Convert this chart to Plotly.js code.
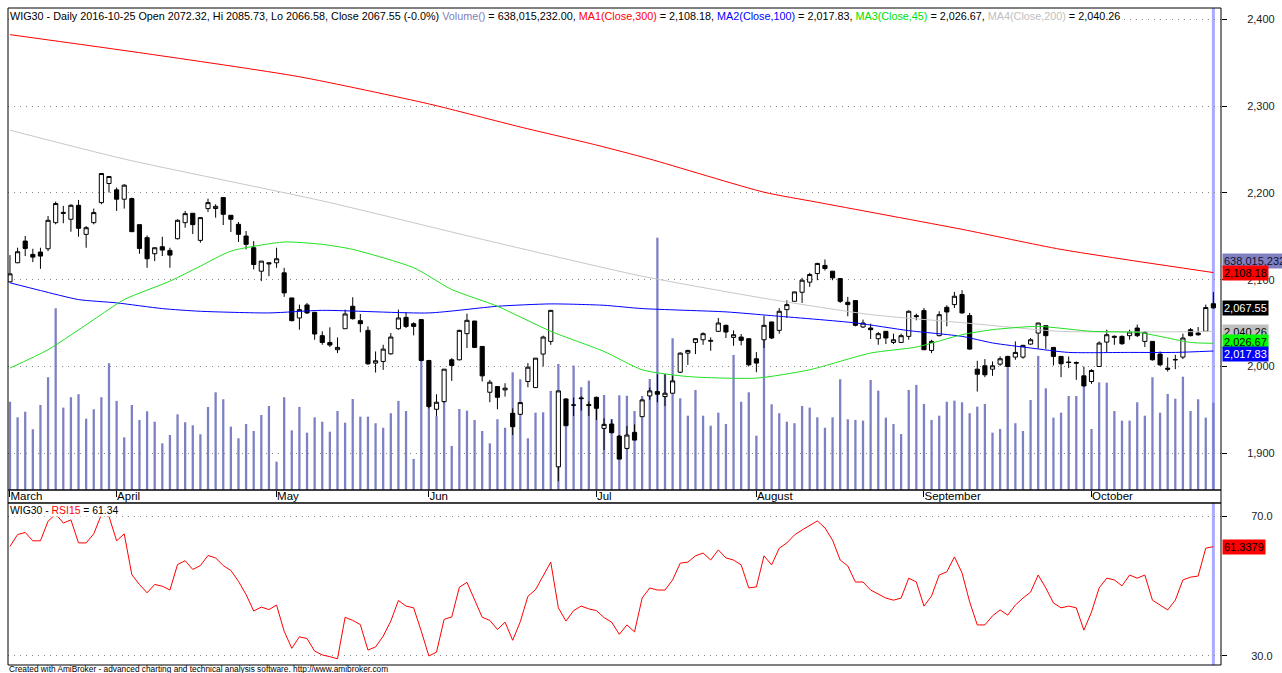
<!DOCTYPE html>
<html>
<head>
<meta charset="utf-8">
<script src="https://cdn.plot.ly/plotly-3.0.1.min.js"></script>
<style>
html,body{margin:0;padding:0;background:#fff;}
#chart{width:1282px;height:673px;}
</style>
</head>
<body>
<div id="chart"></div>
<script>
// ---------- DATA ----------
const monthTickIdx = [0, 14, 35, 55, 77, 98, 120, 142];
const monthLabels = ["March", "April", "May", "Jun", "Jul", "August", "September", "October"];

const openP = [
2097.5,2119.5,2144.5,2129.1,2131.8,2135.6,2165.7,2177.5,2169.6,2185.7,
2152.2,2165.7,2188.8,2210.8,2203.5,2192.7,2193.4,2163.4,2148.4,2129.9,
2138.0,2133.7,2147.2,2165.7,2176.5,2145.3,2181.9,2182.0,2194.6,2174.2,
2163.8,2150.3,2136.8,2109.8,2119.5,2119.5,2107.9,2079.0,2055.9,2070.9,
2062.4,2035.5,2027.7,2019.3,2043.5,2069.4,2052.8,2041.6,2003.9,2005.8,
2014.6,2043.5,2056.6,2049.3,2054.0,2006.9,1950.7,1959.5,2007.7,2007.7,
2037.8,2052.4,2023.1,1970.3,1976.9,1973.0,1946.1,1944.9,1982.7,1975.7,
2014.3,2028.9,1884.4,1962.6,1955.7,1963.8,1956.1,1964.5,1928.7,1933.7,
1919.8,1905.6,1924.1,1942.2,1966.1,1971.1,1965.3,1969.2,1993.4,2015.4,
2027.7,2030.8,2029.0,2040.5,2047.4,2033.5,2033.9,2032.0,2008.9,2030.8,
2051.3,2041.6,2065.5,2075.1,2085.5,2097.1,2107.1,2116.4,2109.8,2101.3,
2074.0,2075.9,2045.5,2044.3,2032.0,2040.5,2027.7,2027.7,2034.7,2058.6,
2064.4,2018.5,2035.5,2068.2,2071.3,2082.9,2058.6,1996.9,2000.8,1996.9,
2002.7,2011.6,2010.8,2010.8,2025.8,2038.5,2047.0,2022.0,2011.6,2005.2,
2004.6,1989.2,1982.7,2000.0,2028.1,2033.5,2034.7,2035.5,2044.3,2028.9,
2028.9,2014.3,1998.1,2008.1,2010.8,2042.4,2038.5,2040.5,2072.32];
const highP = [
2128.3,2136.8,2150.3,2135.6,2136.8,2173.4,2190.0,2185.0,2187.0,2191.9,
2161.8,2181.9,2222.5,2219.0,2206.2,2210.0,2194.6,2163.5,2151.0,2137.0,
2149.5,2136.8,2169.6,2179.2,2176.5,2171.5,2193.4,2186.9,2195.0,2174.5,
2166.5,2156.1,2144.5,2121.5,2119.6,2136.8,2113.7,2079.1,2071.3,2073.2,
2062.5,2040.5,2045.1,2033.5,2065.5,2079.8,2060.5,2046.2,2017.3,2025.0,
2038.5,2065.5,2062.8,2050.9,2054.7,2007.7,1968.0,1997.0,2009.6,2042.4,
2060.9,2052.5,2023.2,1984.6,1977.0,1980.7,1951.8,1958.5,2003.9,2009.6,
2035.5,2065.0,1972.0,1963.4,1964.2,1965.7,1959.5,1965.3,1940.3,1939.1,
1921.0,1931.4,1933.3,1962.0,1975.7,1991.1,1991.1,1989.6,2016.2,2019.3,
2032.8,2039.3,2033.5,2055.9,2048.2,2041.6,2037.4,2032.1,2016.6,2058.6,
2051.5,2067.4,2076.3,2086.0,2102.1,2107.9,2119.5,2123.3,2110.0,2101.5,
2080.2,2076.0,2054.0,2049.3,2039.7,2040.6,2037.8,2037.8,2064.7,2060.9,
2067.4,2030.8,2063.6,2070.5,2085.9,2087.9,2061.7,2006.6,2008.5,2005.8,
2011.6,2012.3,2028.9,2025.0,2032.8,2050.2,2047.1,2022.1,2011.7,2011.6,
2005.8,2000.0,1996.9,2028.9,2042.4,2035.8,2035.8,2042.4,2048.2,2040.5,
2029.0,2017.3,2010.4,2013.5,2037.8,2044.3,2045.5,2071.3,2085.73];
const lowP = [
2097.0,2119.0,2127.2,2120.2,2112.5,2132.9,2163.8,2165.0,2155.3,2149.5,
2136.8,2163.8,2186.9,2200.4,2179.2,2181.9,2155.0,2129.9,2113.7,2121.4,
2127.2,2113.7,2146.4,2159.9,2152.6,2142.6,2178.0,2171.5,2163.0,2154.9,
2143.4,2134.9,2111.8,2098.3,2104.0,2113.7,2080.2,2052.0,2042.4,2060.5,
2030.8,2025.0,2022.4,2015.4,2043.4,2054.0,2039.3,2001.9,1993.1,1996.1,
2013.5,2042.4,2044.3,2035.8,2005.8,1951.8,1943.0,1958.4,1983.4,2007.0,
2021.2,2021.2,1982.7,1958.8,1950.7,1965.3,1921.0,1944.1,1976.1,1975.6,
2000.0,2025.0,1867.8,1931.8,1943.0,1949.1,1943.0,1938.3,1903.7,1922.9,
1893.0,1904.4,1915.0,1942.0,1961.5,1958.8,1954.5,1969.0,1992.3,2001.9,
2014.3,2025.0,2018.1,2039.7,2032.8,2023.9,2024.3,2000.0,1993.4,2021.2,
2031.6,2037.8,2055.9,2075.0,2073.2,2091.7,2099.4,2110.6,2099.4,2073.2,
2057.8,2046.2,2044.3,2031.6,2025.0,2025.8,2025.8,2027.0,2030.8,2053.2,
2019.0,2015.4,2034.7,2046.2,2067.4,2060.9,2019.3,1971.1,1987.7,1989.2,
2000.8,2000.0,2007.7,2008.9,2025.0,2020.4,2020.4,2001.2,1987.7,1998.1,
1984.6,1976.9,1980.0,2000.0,2016.6,2025.0,2025.0,2030.8,2033.9,2022.4,
2006.9,2000.8,1994.2,1996.9,2008.5,2034.7,2035.5,2040.5,2066.58];
const closeP = [
2106.7,2132.2,2136.0,2126.0,2127.2,2168.4,2187.7,2176.5,2185.7,2159.2,
2159.9,2177.3,2222.3,2218.9,2192.7,2208.9,2155.3,2136.0,2124.1,2136.8,
2134.1,2128.3,2168.4,2176.1,2163.4,2171.5,2188.8,2184.5,2175.3,2169.6,
2152.2,2140.7,2117.5,2121.4,2118.3,2124.1,2084.8,2052.8,2065.5,2061.7,
2037.4,2027.7,2024.7,2022.0,2060.5,2055.1,2049.3,2003.1,2006.6,2020.0,
2033.9,2055.9,2046.2,2046.2,2006.9,1953.8,1958.8,1996.9,2001.2,2041.6,
2053.2,2022.0,1989.2,1981.9,1964.5,1975.0,1930.6,1958.4,1999.2,2009.6,
2033.9,2064.7,1971.9,1931.8,1955.5,1963.0,1955.0,1951.8,1933.3,1923.7,
1893.3,1921.0,1915.2,1961.5,1971.9,1968.0,1969.2,1983.4,2015.4,2018.5,
2032.0,2037.8,2030.0,2050.1,2039.7,2036.6,2030.1,2001.9,2003.9,2047.4,
2032.8,2063.6,2071.3,2085.9,2099.4,2106.0,2118.7,2112.9,2102.1,2075.1,
2071.3,2047.4,2050.1,2042.4,2037.8,2032.8,2030.8,2035.5,2063.6,2057.5,
2019.3,2028.9,2059.7,2062.8,2080.9,2061.7,2020.0,1991.1,1990.4,2000.8,
2008.9,2000.0,2016.2,2024.3,2030.8,2050.1,2035.5,2011.6,2003.1,2004.6,
2003.9,1977.6,1995.4,2027.0,2036.6,2034.7,2026.2,2039.7,2035.5,2039.3,
2007.7,2001.9,1996.9,2007.7,2032.8,2035.5,2036.5,2067.9,2067.55];
// volume in millions of shares
const volumeM = [
645,531,572,444,621,824,1328,602,678,700,
521,590,678,926,651,385,621,512,575,499,
341,402,553,495,473,407,607,714,663,463,
378,482,431,548,614,207,678,436,607,419,
531,499,426,577,492,665,536,536,488,455,
561,651,577,227,950,658,541,707,322,592,
580,512,431,341,517,455,860,809,378,565,
568,724,921,665,909,751,799,645,694,517,
692,689,577,687,811,1844,848,1109,670,543,
731,543,470,565,482,987,645,714,397,1096,
626,561,499,488,614,602,531,455,531,809,
517,512,507,804,726,529,482,409,731,768,
629,512,543,645,653,641,561,609,629,419,
446,950,488,431,658,980,743,529,565,687,
687,804,446,787,784,577,507,507,641,543,
824,565,702,667,828,577,663,529,638.015232];
const rsi15 = [
61.4,64.8,65.4,63.0,63.0,68.6,70.7,68.1,69.0,62.4,
62.4,65.0,70.5,70.0,63.0,65.0,53.3,50.5,48.1,50.5,
50.0,48.9,56.2,57.3,54.8,55.9,58.8,58.1,55.9,54.5,
51.4,47.6,42.9,44.0,43.3,44.6,37.1,32.2,35.5,35.0,
31.4,30.3,29.8,29.2,41.1,40.2,39.0,31.7,32.6,35.7,
40.0,45.9,44.3,43.8,37.1,30.0,31.1,40.5,41.2,49.7,
51.1,46.0,41.1,40.2,37.6,39.7,34.5,39.8,47.1,49.0,
52.9,56.9,43.8,40.0,43.0,44.3,43.5,43.0,41.0,39.7,
36.2,38.9,36.9,46.6,49.5,48.9,48.9,51.8,56.6,56.9,
58.7,59.5,57.5,60.4,58.1,57.5,56.1,49.5,49.8,58.7,
56.1,60.9,62.4,64.7,66.1,67.5,68.7,66.7,63.2,57.5,
55.8,51.2,51.2,48.9,47.8,46.6,46.0,46.6,52.3,51.2,
44.3,47.2,53.2,54.1,58.4,53.8,45.5,38.9,38.9,41.5,
43.2,41.7,44.6,46.6,48.3,53.2,49.5,45.2,43.8,44.3,
43.8,37.4,42.6,49.5,52.3,51.8,50.1,53.2,52.3,53.2,
46.0,44.6,43.2,46.0,51.8,52.6,52.9,60.9,61.3379];

// moving averages, read at selected bars
const ma1Idx = [0,18,38,55,67,77,84,99,106,125,138,158];
const ma1Val = [2382.3,2360.3,2333.8,2302.5,2275.9,2255.1,2239.0,2200.8,2189.2,2158.0,2134.9,2108.18];
const ma2Idx = [0,4,9,14,20,25,34,41,55,64,71,78,83,94,100,111,118,125,129,134,139,147,153,158];
const ma2Val = [2096.4,2087.5,2077.1,2073.3,2066.7,2063.6,2061.7,2064.7,2061.7,2069.4,2072.1,2070.5,2066.7,2062.9,2058.6,2050.2,2041.3,2034.7,2027.1,2021.3,2016.2,2016.2,2016.2,2017.83];
const ma3Idx = [0,5,11,15,21,25,29,36,41,45,53,58,64,71,78,83,89,98,105,113,119,125,129,135,142,148,151,155,158];
const ma3Val = [1998.2,2019.3,2054.0,2077.1,2098.3,2115.6,2132.9,2143.4,2140.7,2134.9,2113.8,2088.7,2069.4,2040.5,2017.3,1996.2,1988.4,1986.6,1996.2,2015.5,2022.4,2036.6,2042.4,2046.2,2040.5,2039.3,2034.7,2027.7,2026.67];
const ma4Idx = [0,15,41,62,83,100,113,125,138,158];
const ma4Val = [2272.2,2239.0,2190.8,2146.5,2104.0,2077.1,2059.8,2050.5,2040.5,2040.26];

const priceTicks = [1900,2000,2100,2200,2300,2400];
const rsiTicks = [30,70];

// ---------- CHART ----------
const idx = closeP.map((_, i) => i);
const last = closeP.length - 1;
const fmt2 = v => v.toLocaleString('en-US', {minimumFractionDigits: 2, maximumFractionDigits: 2});
const volFull = Math.round(volumeM[last] * 1e6);
const volStr = volFull.toLocaleString('en-US');

const MAIN_DOM = [0.26636, 1];
const RSI_DOM = [0, 0.24658];
const maLine = (c) => ({color:c, width:1, shape:'spline', smoothing:0.6});

const traces = [
  {type:'bar', x: idx, y: volumeM, xaxis:'x', yaxis:'y', width:0.3,
   marker:{color:'#7c80c4', line:{width:0}}, hoverinfo:'skip'},
  {type:'scatter', mode:'lines', x: ma4Idx, y: ma4Val, xaxis:'x', yaxis:'y2', line: maLine('#c8c8c8'), hoverinfo:'skip'},
  {type:'scatter', mode:'lines', x: ma1Idx, y: ma1Val, xaxis:'x', yaxis:'y2', line: maLine('#ff0000'), hoverinfo:'skip'},
  {type:'scatter', mode:'lines', x: ma2Idx, y: ma2Val, xaxis:'x', yaxis:'y2', line: maLine('#0000ff'), hoverinfo:'skip'},
  {type:'scatter', mode:'lines', x: ma3Idx, y: ma3Val, xaxis:'x', yaxis:'y2', line: maLine('#22e022'), hoverinfo:'skip'},
  {type:'candlestick', x: idx, open: openP, high: highP, low: lowP, close: closeP, xaxis:'x', yaxis:'y2',
   whiskerwidth:0,
   increasing:{line:{color:'#000', width:1}, fillcolor:'#ffffff'},
   decreasing:{line:{color:'#000', width:1}, fillcolor:'#000000'},
   hoverinfo:'skip'},
  {type:'scatter', mode:'lines', x: idx, y: rsi15, xaxis:'x', yaxis:'y3', line:{color:'#ff0000', width:1}, hoverinfo:'skip'}
];

const titleText = 'WIG30 - Daily 2016-10-25 Open ' + openP[last].toFixed(2) + ', Hi ' + highP[last].toFixed(2) +
  ', Lo ' + lowP[last].toFixed(2) + ', Close ' + closeP[last].toFixed(2) + ' (-0.0%) ' +
  '<span style="color:#8080c0">Volume()</span> = ' + volStr + '.00, ' +
  '<span style="color:#ff0000">MA1(Close,300)</span> = ' + fmt2(ma1Val[ma1Val.length-1]) + ', ' +
  '<span style="color:#0000ff">MA2(Close,100)</span> = ' + fmt2(ma2Val[ma2Val.length-1]) + ', ' +
  '<span style="color:#00e000">MA3(Close,45)</span> = ' + fmt2(ma3Val[ma3Val.length-1]) + ', ' +
  '<span style="color:#c0c0c0">MA4(Close,200)</span> = ' + fmt2(ma4Val[ma4Val.length-1]);

const boxFont = {family:'Arial, "Liberation Sans", sans-serif', size:11};
function valueBox(text, y, yref, bg, color, yshift) {
  return {text: text, xref:'paper', x:1, xanchor:'left', xshift:1, yref: yref, y: y, yanchor:'middle',
          yshift: yshift || 0, showarrow:false, bgcolor: bg, borderpad:1, font:Object.assign({color: color}, boxFont)};
}

const annotations = [
  {text: titleText, xref:'paper', x:0, xanchor:'left', xshift:1, yref:'paper', y:1, yanchor:'top', yshift:-1,
   showarrow:false, bgcolor:'#ffffff', borderpad:0, align:'left', font:{size:10.8, color:'#000'}},
  {text: 'WIG30 - <span style="color:#ff0000">RSI15</span> = ' + rsi15[last].toFixed(2), xref:'paper', x:0, xanchor:'left', xshift:1,
   yref:'paper', y:RSI_DOM[1], yanchor:'top', yshift:-1, showarrow:false, bgcolor:'#ffffff', borderpad:0, font:{size:10.4, color:'#000'}},
  {text: 'Created with AmiBroker - advanced charting and technical analysis software. http://www.amibroker.com',
   xref:'paper', x:0, xanchor:'left', xshift:-1, yref:'paper', y:0, yanchor:'middle', yshift:-4, showarrow:false,
   font:{size:8.3, color:'#000'}},
  valueBox(volStr, 0.6149, 'paper', '#8080c0', '#101030', 0),
  valueBox(fmt2(ma1Val[ma1Val.length-1]), ma1Val[ma1Val.length-1], 'y2', '#ff0000', '#000000', 0),
  valueBox(fmt2(closeP[last]), closeP[last], 'y2', '#000000', '#ffffff', 0),
  valueBox(fmt2(ma4Val[ma4Val.length-1]), ma4Val[ma4Val.length-1], 'y2', '#c0c0c0', '#000000', 0),
  valueBox(fmt2(ma3Val[ma3Val.length-1]), ma3Val[ma3Val.length-1], 'y2', '#00ff00', '#000000', 1),
  valueBox(fmt2(ma2Val[ma2Val.length-1]), ma2Val[ma2Val.length-1], 'y2', '#0000ff', '#ffffff', -3),
  valueBox(rsi15[last].toFixed(4), rsi15[last], 'y3', '#ff0000', '#000000', 0)
];

const shapes = [
  {type:'line', xref:'x', x0: idx[last], x1: idx[last], yref:'paper', y0: MAIN_DOM[0], y1: MAIN_DOM[1], line:{color:'#aaaaff', width:3}, layer:'below'},
  {type:'line', xref:'x', x0: idx[last], x1: idx[last], yref:'paper', y0: RSI_DOM[0], y1: RSI_DOM[1], line:{color:'#aaaaff', width:3}, layer:'below'},
  {type:'rect', xref:'paper', x0:0, x1:1, yref:'paper', y0: MAIN_DOM[0], y1: MAIN_DOM[1], line:{color:'#000', width:1}, layer:'above'},
  {type:'rect', xref:'paper', x0:0, x1:1, yref:'paper', y0: RSI_DOM[1], y1: MAIN_DOM[0], line:{color:'#000', width:1}, layer:'above'},
  {type:'rect', xref:'paper', x0:0, x1:1, yref:'paper', y0: RSI_DOM[0], y1: RSI_DOM[1], line:{color:'#000', width:1}, layer:'above'}
];

const layout = {
  width:1282, height:673,
  margin:{l:8, r:61, t:8, b:8, pad:0},
  paper_bgcolor:'#ffffff', plot_bgcolor:'#ffffff',
  showlegend:false, hovermode:false, dragmode:false,
  boxgap:0.22,
  font:{family:'Arial, "Liberation Sans", sans-serif', size:11, color:'#000'},
  xaxis:{domain:[0,1], anchor:'y', range:[-0.26, 159.0], tickmode:'array', tickvals: monthTickIdx, ticktext: monthLabels,
         ticks:'outside', ticklen:6, tickcolor:'#000', tickwidth:1, ticklabelposition:'outside right',
         ticklabelstandoff:-5,
         showgrid:false, zeroline:false, showline:false, rangeslider:{visible:false}, fixedrange:true,
         tickfont:{size:11.5, color:'#000'}},
  yaxis:{domain: MAIN_DOM, anchor:'x', range:[0, 3522], visible:false, showgrid:false, zeroline:false, fixedrange:true},
  yaxis2:{overlaying:'y', side:'right', anchor:'x', range:[1857.7, 2413.0], tickmode:'array', tickvals: priceTicks,
          tickformat:',', ticks:'outside', ticklen:5, tickcolor:'#000', tickwidth:1,
          showgrid:true, gridcolor:'#8a8a8a', gridwidth:1, griddash:'1px,5px', zeroline:false, showline:false,
          ticklabelstandoff:18, tickfont:{size:11, color:'#222'}, fixedrange:true},
  yaxis3:{domain: RSI_DOM, anchor:'x', side:'right', range:[27.42, 73.84], tickmode:'array', tickvals: rsiTicks,
          tickformat:'.1f', ticks:'outside', ticklen:5, tickcolor:'#000', tickwidth:1,
          showgrid:true, gridcolor:'#8a8a8a', gridwidth:1, griddash:'1px,5px', zeroline:false, showline:false,
          ticklabelstandoff:22, tickfont:{size:11, color:'#222'}, fixedrange:true},
  annotations: annotations,
  shapes: shapes
};

Plotly.newPlot('chart', traces, layout, {displayModeBar:false, staticPlot:true});
</script>
</body>
</html>
